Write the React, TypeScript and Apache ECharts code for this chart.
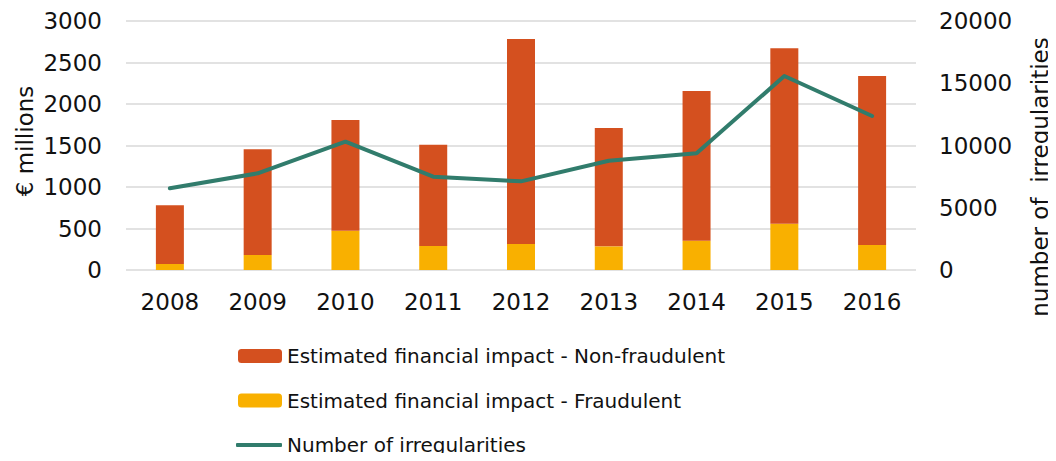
import React, { useEffect, useRef } from "react";
import * as echarts from "echarts";

const years = ["2008", "2009", "2010", "2011", "2012", "2013", "2014", "2015", "2016"];
const fraudulent = [72, 181, 474, 289, 313, 285, 353, 558, 301];
const nonFraudulent = [708, 1273, 1333, 1221, 2470, 1426, 1804, 2113, 2037];
const irregularities = [6560, 7765, 10303, 7494, 7120, 8777, 9371, 15578, 12366];

const NAME_NF = "Estimated financial impact - Non-fraudulent";
const NAME_F = "Estimated financial impact - Fraudulent";
const NAME_L = "Number of irregularities";

const FONT = "DejaVu Sans, Verdana, sans-serif";
const TXT = "#111";
const LINE_COLOR = "#317C6C";

export default function App() {
  const ref = useRef<HTMLDivElement>(null);
  useEffect(() => {
    if (!ref.current) return;
    const chart = echarts.init(ref.current, null, { renderer: "svg" });
    const legendText = { color: TXT, fontSize: 20, lineHeight: 24, fontFamily: FONT };
    chart.setOption({
      animation: false,
      textStyle: { fontFamily: FONT },
      grid: { left: 126, right: 140, top: 21, bottom: 191, containLabel: false },
      xAxis: {
        type: "category",
        data: years,
        axisLine: { show: false },
        axisTick: { show: false },
        axisLabel: { color: TXT, fontSize: 23, margin: 20, fontFamily: FONT },
      },
      yAxis: [
        {
          type: "value",
          min: 0,
          max: 3000,
          interval: 500,
          axisLine: { show: false },
          axisTick: { show: false },
          axisLabel: { color: TXT, fontSize: 23, margin: 24, fontFamily: FONT, formatter: (v: number) => String(v) },
          splitLine: { lineStyle: { color: "#d9d9d9", width: 1.5 } },
        },
        {
          type: "value",
          min: 0,
          max: 20000,
          interval: 5000,
          axisLine: { show: false },
          axisTick: { show: false },
          axisLabel: { color: TXT, fontSize: 23, margin: 23, fontFamily: FONT, formatter: (v: number) => String(v) },
          splitLine: { show: false },
        },
      ],
      legend: [
        {
          orient: "vertical",
          left: 238,
          top: 344,
          height: 100,
          padding: 0,
          itemWidth: 44,
          itemHeight: 14,
          itemGap: 20.5,
          textStyle: legendText,
          data: [NAME_NF, NAME_F],
        },
        {
          orient: "vertical",
          left: 236,
          top: 433,
          padding: 0,
          itemWidth: 46,
          itemHeight: 4,
          icon: "roundRect",
          textStyle: legendText,
          data: [NAME_L],
        },
      ],
      graphic: [
        {
          type: "text",
          x: 25,
          y: 141,
          rotation: Math.PI / 2,
          style: {
            text: "€ millions",
            fill: TXT,
            font: `23px ${FONT}`,
            align: "center",
            verticalAlign: "middle",
          },
        },
        {
          type: "text",
          x: 1040,
          y: 177,
          rotation: Math.PI / 2,
          style: {
            text: "number of  irregularities",
            fill: TXT,
            font: `23px ${FONT}`,
            align: "center",
            verticalAlign: "middle",
          },
        },
      ],
      series: [
        {
          name: NAME_F,
          type: "bar",
          stack: "impact",
          data: fraudulent,
          barWidth: 28,
          itemStyle: { color: "#F9B000" },
        },
        {
          name: NAME_NF,
          type: "bar",
          stack: "impact",
          data: nonFraudulent,
          barWidth: 28,
          itemStyle: { color: "#D4501F" },
        },
        {
          name: NAME_L,
          type: "line",
          yAxisIndex: 1,
          data: irregularities,
          symbol: "none",
          lineStyle: { color: LINE_COLOR, width: 4, cap: "round", join: "round" },
          itemStyle: { color: LINE_COLOR },
        },
      ],
    });
    return () => chart.dispose();
  }, []);
  return <div ref={ref} style={{ width: 1056, height: 461, margin: -8 }} />;
}
